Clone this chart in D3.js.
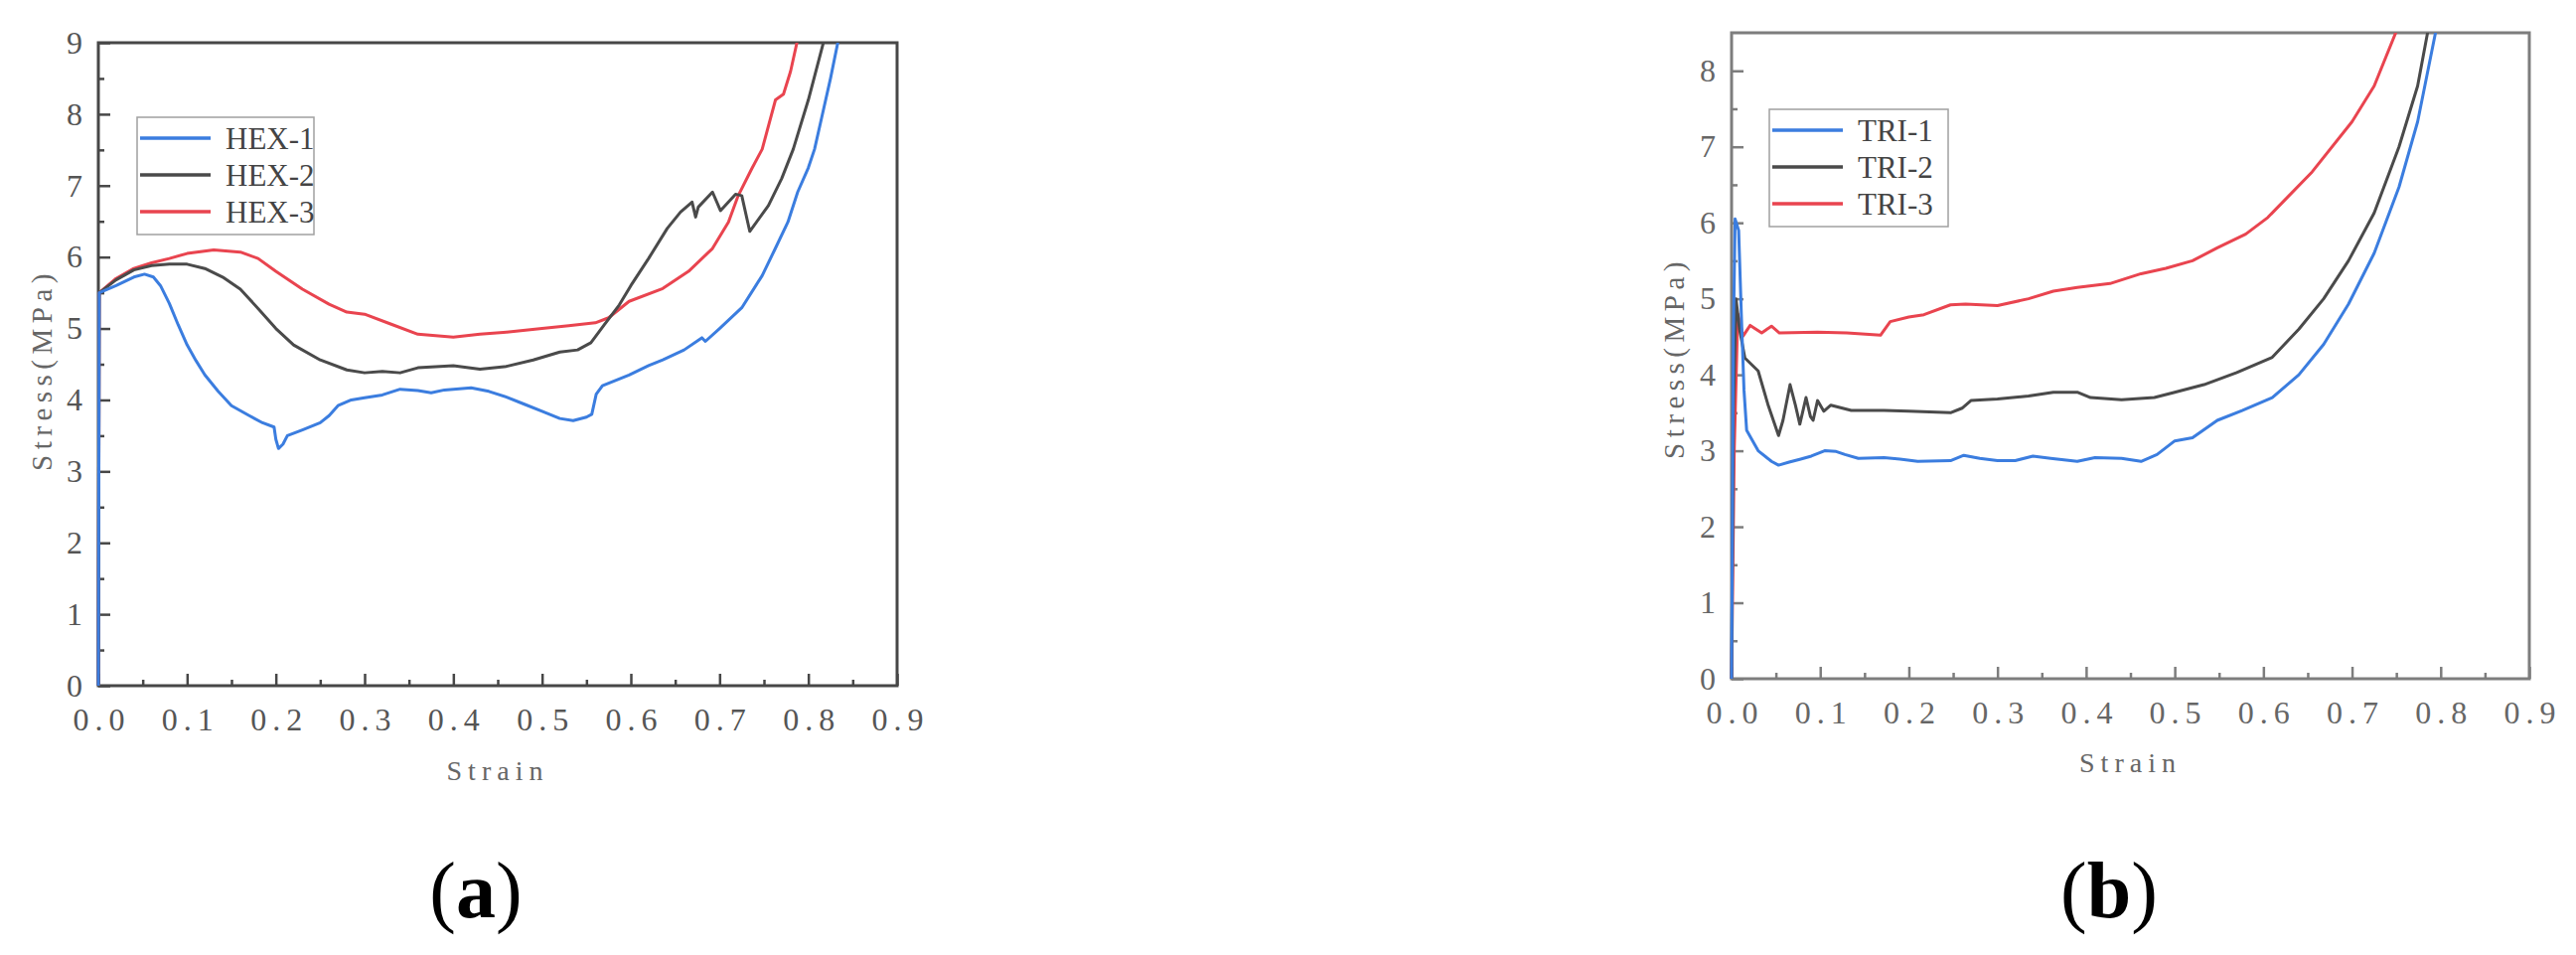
<!DOCTYPE html>
<html>
<head>
    <title>Stress-strain curves HEX / TRI</title>
    <script src='https://d3js.org/d3.v7.min.js'></script>
    <style>
        html, body {margin: 0; padding: 0; background: #fff;}
        svg text {font-family: 'Liberation Serif', 'DejaVu Serif', serif;}
    </style>
</head>
<body>
<div id="vis"></div>
<script>

// strain / stress pairs
var hex1 = [[0,0],[0.001,5.5],[0.02,5.6],[0.04,5.72],[0.052,5.76],[0.062,5.72],[0.07,5.6],[0.08,5.35],[0.09,5.05],[0.1,4.77],[0.11,4.55],[0.12,4.35],[0.135,4.12],[0.15,3.92],[0.17,3.78],[0.185,3.68],[0.198,3.62],[0.2,3.45],[0.203,3.32],[0.208,3.38],[0.213,3.5],[0.23,3.58],[0.25,3.68],[0.26,3.78],[0.27,3.92],[0.285,4.0],[0.3,4.03],[0.32,4.07],[0.34,4.15],[0.36,4.13],[0.375,4.1],[0.39,4.14],[0.42,4.17],[0.44,4.12],[0.46,4.04],[0.48,3.94],[0.5,3.84],[0.52,3.74],[0.535,3.71],[0.55,3.76],[0.556,3.8],[0.561,4.08],[0.568,4.2],[0.598,4.35],[0.62,4.48],[0.636,4.56],[0.66,4.7],[0.68,4.87],[0.684,4.82],[0.7,5.0],[0.725,5.29],[0.748,5.74],[0.762,6.1],[0.777,6.49],[0.788,6.91],[0.8,7.25],[0.807,7.51],[0.815,7.95],[0.825,8.5],[0.834,9.05]];
var hex2 = [[0,0],[0.001,5.5],[0.02,5.68],[0.04,5.82],[0.06,5.88],[0.08,5.9],[0.1,5.9],[0.12,5.84],[0.14,5.72],[0.16,5.55],[0.18,5.28],[0.2,5.0],[0.22,4.77],[0.25,4.56],[0.28,4.42],[0.3,4.38],[0.32,4.4],[0.34,4.38],[0.36,4.45],[0.4,4.48],[0.43,4.43],[0.46,4.47],[0.49,4.56],[0.52,4.67],[0.54,4.7],[0.555,4.8],[0.57,5.05],[0.587,5.33],[0.6,5.6],[0.62,5.98],[0.641,6.4],[0.656,6.63],[0.669,6.77],[0.673,6.56],[0.676,6.7],[0.692,6.91],[0.701,6.65],[0.718,6.88],[0.725,6.86],[0.734,6.36],[0.755,6.72],[0.77,7.1],[0.783,7.51],[0.8,8.2],[0.818,9.05]];
var hex3 = [[0,0],[0.001,5.5],[0.02,5.7],[0.04,5.84],[0.06,5.92],[0.08,5.98],[0.1,6.05],[0.13,6.1],[0.16,6.07],[0.18,5.98],[0.2,5.8],[0.23,5.55],[0.26,5.34],[0.28,5.23],[0.3,5.2],[0.33,5.06],[0.36,4.92],[0.38,4.9],[0.4,4.88],[0.43,4.92],[0.46,4.95],[0.5,5.0],[0.53,5.04],[0.56,5.08],[0.575,5.15],[0.598,5.38],[0.636,5.56],[0.665,5.8],[0.692,6.12],[0.71,6.49],[0.721,6.86],[0.736,7.23],[0.748,7.51],[0.763,8.2],[0.772,8.28],[0.78,8.6],[0.788,9.05]];

var tri1 = [[0,0],[0.002,4.5],[0.004,6.05],[0.008,5.9],[0.011,4.8],[0.014,3.8],[0.017,3.27],[0.03,3.0],[0.045,2.86],[0.053,2.81],[0.065,2.85],[0.078,2.89],[0.09,2.93],[0.105,3.0],[0.118,2.99],[0.128,2.95],[0.143,2.9],[0.172,2.91],[0.19,2.89],[0.21,2.86],[0.247,2.87],[0.262,2.94],[0.28,2.9],[0.3,2.87],[0.32,2.87],[0.34,2.93],[0.36,2.9],[0.39,2.86],[0.41,2.91],[0.44,2.9],[0.462,2.86],[0.48,2.95],[0.5,3.13],[0.52,3.17],[0.548,3.4],[0.576,3.53],[0.61,3.7],[0.64,4.0],[0.668,4.4],[0.696,4.93],[0.725,5.6],[0.753,6.47],[0.774,7.33],[0.795,8.55]];
var tri2 = [[0,0],[0.002,3.5],[0.005,5.0],[0.009,4.6],[0.015,4.22],[0.03,4.05],[0.041,3.61],[0.053,3.2],[0.058,3.4],[0.066,3.87],[0.072,3.6],[0.077,3.35],[0.084,3.7],[0.089,3.45],[0.092,3.4],[0.097,3.66],[0.104,3.52],[0.112,3.6],[0.135,3.53],[0.172,3.53],[0.2,3.52],[0.247,3.5],[0.26,3.56],[0.27,3.66],[0.3,3.68],[0.335,3.72],[0.363,3.77],[0.39,3.77],[0.405,3.7],[0.44,3.67],[0.477,3.7],[0.5,3.77],[0.533,3.87],[0.57,4.03],[0.61,4.23],[0.64,4.6],[0.668,5.0],[0.696,5.5],[0.725,6.13],[0.753,7.0],[0.774,7.8],[0.786,8.55]];
var tri3 = [[0,0],[0.003,3.0],[0.007,4.8],[0.013,4.51],[0.021,4.65],[0.034,4.55],[0.045,4.64],[0.054,4.55],[0.097,4.56],[0.13,4.55],[0.168,4.52],[0.179,4.7],[0.2,4.76],[0.217,4.79],[0.247,4.92],[0.264,4.93],[0.3,4.91],[0.335,5.0],[0.363,5.1],[0.39,5.15],[0.427,5.2],[0.462,5.33],[0.49,5.4],[0.52,5.5],[0.548,5.67],[0.58,5.85],[0.605,6.07],[0.655,6.67],[0.7,7.33],[0.725,7.8],[0.751,8.55]];

var hexNames = ['HEX-1', 'HEX-2', 'HEX-3'];
var triNames = ['TRI-1', 'TRI-2', 'TRI-3'];

var xTicks = [0, 0.1, 0.2, 0.3, 0.4, 0.5, 0.6, 0.7, 0.8, 0.9];
var xMinor = [0.05, 0.15, 0.25, 0.35, 0.45, 0.55, 0.65, 0.75, 0.85];
var yTicksA = [0, 1, 2, 3, 4, 5, 6, 7, 8, 9];
var yMinorA = [0.5, 1.5, 2.5, 3.5, 4.5, 5.5, 6.5, 7.5, 8.5];
var yTicksB = [0, 1, 2, 3, 4, 5, 6, 7, 8];
var yMinorB = [0.5, 1.5, 2.5, 3.5, 4.5, 5.5, 6.5, 7.5];

var colors = ['#3b7ddf', '#4a4a4a', '#e9444f'];
var serif = 'Liberation Serif';

var svg = d3.select('#vis')
    .append('svg')
    .attr('width', 2593)
    .attr('height', 961);
svg.append('rect').attr('width', 2593).attr('height', 961).attr('fill', '#fff');

var panels = [
    {id: 'a', series: [hex1, hex2, hex3], names: hexNames, yTop: 9, yTicks: yTicksA, yMinor: yMinorA,
     left: 99, right: 903, top: 43, bottom: 690, frame: '#474747', text: '#555',
     legend: {x: 39, y: 75, w: 178, h: 118}, ylab: {x: 42, y: 372}, xlab: 775, tag: 479},
    {id: 'b', series: [tri1, tri2, tri3], names: triNames, yTop: 8.5, yTicks: yTicksB, yMinor: yMinorB,
     left: 1743, right: 2546, top: 33, bottom: 683, frame: '#7d7d7d', text: '#666',
     legend: {x: 38, y: 77, w: 180, h: 118}, ylab: {x: 1685, y: 360}, xlab: 767, tag: 2123}
];

panels.forEach(function(p) {
    var w = p.right - p.left, h = p.bottom - p.top;
    var g = svg.append('g').attr('transform', 'translate(' + p.left + ',' + p.top + ')');
    var x = d3.scaleLinear().domain([0, 0.9]).range([0, w]);
    var y = d3.scaleLinear().domain([0, p.yTop]).range([h, 0]);

    // minor ticks
    g.append('g').attr('transform', 'translate(0,' + h + ')')
        .call(d3.axisBottom(x).tickValues(xMinor).tickSize(-6).tickFormat(''))
        .call(function(a) { a.select('.domain').remove(); a.selectAll('line').attr('stroke', p.frame).attr('stroke-width', 2.5); });
    g.append('g')
        .call(d3.axisLeft(y).tickValues(p.yMinor).tickSize(-6).tickFormat(''))
        .call(function(a) { a.select('.domain').remove(); a.selectAll('line').attr('stroke', p.frame).attr('stroke-width', 2.5); });

    // major ticks and labels
    var xa = g.append('g').attr('transform', 'translate(0,' + h + ')')
        .call(d3.axisBottom(x).tickValues(xTicks).tickSize(-12).tickPadding(22).tickFormat(d3.format('.1f')));
    var ya = g.append('g')
        .call(d3.axisLeft(y).tickValues(p.yTicks).tickSize(-12).tickPadding(16).tickFormat(d3.format('d')));
    [xa, ya].forEach(function(a) {
        a.attr('font-family', serif);
        a.select('.domain').remove();
        a.selectAll('line').attr('stroke', p.frame).attr('stroke-width', 2.5);
        a.selectAll('text').attr('fill', p.text).attr('font-family', serif).style('font-size', '32px');
    });
    xa.selectAll('text').attr('letter-spacing', '6px').attr('dx', '3px');

    // frame first, the curves sit on top of it like in the original
    g.append('rect').attr('width', w).attr('height', h)
        .attr('fill', 'none').attr('stroke', p.frame).attr('stroke-width', 3);

    // curves, third series drawn first so the first one ends up on top
    var clipId = 'clip-' + p.id;
    g.append('clipPath').attr('id', clipId).append('rect')
        .attr('x', -3).attr('width', w + 3).attr('height', h + 3);
    var line = d3.line().x(function(d) { return x(d[0]); }).y(function(d) { return y(d[1]); });
    g.append('g').attr('clip-path', 'url(#' + clipId + ')')
        .selectAll('path').data([2, 1, 0]).enter().append('path')
        .attr('d', function(i) { return line(p.series[i]); })
        .attr('fill', 'none')
        .attr('stroke', function(i) { return colors[i]; })
        .attr('stroke-width', 3)
        .attr('stroke-linejoin', 'round');

    // legend
    var lg = g.append('g').attr('transform', 'translate(' + p.legend.x + ',' + p.legend.y + ')');
    lg.append('rect').attr('width', p.legend.w).attr('height', p.legend.h)
        .attr('fill', '#fff').attr('stroke', '#a0a0a0').attr('stroke-width', 1.5);
    p.names.forEach(function(n, i) {
        var ly = 21 + i * 37;
        lg.append('line').attr('x1', 3).attr('x2', 74).attr('y1', ly).attr('y2', ly)
            .attr('stroke', colors[i]).attr('stroke-width', 3.5);
        lg.append('text').attr('x', 89).attr('y', ly + 11).text(n)
            .attr('font-family', serif).attr('fill', '#444').style('font-size', '31px');
    });

    // axis titles
    svg.append('text').attr('x', p.left + w / 2).attr('y', p.xlab).attr('dy', '0.35em')
        .attr('text-anchor', 'middle').attr('fill', '#666').attr('letter-spacing', '6px')
        .attr('font-family', serif).style('font-size', '28px').text('Strain');
    svg.append('text').attr('transform', 'translate(' + p.ylab.x + ',' + p.ylab.y + ') rotate(-90)')
        .attr('dy', '0.35em').attr('text-anchor', 'middle').attr('fill', '#666').attr('letter-spacing', '5.5px')
        .attr('font-family', serif).style('font-size', '29px').text('Stress(MPa)');

    // panel tag
    var t = svg.append('text').attr('x', p.tag).attr('y', 923).attr('text-anchor', 'middle')
        .attr('font-family', serif).attr('fill', '#000').style('font-size', '80px');
    t.append('tspan').text('(');
    t.append('tspan').attr('font-weight', 'bold').text(p.id);
    t.append('tspan').text(')');
});

</script>
</body>
</html>
